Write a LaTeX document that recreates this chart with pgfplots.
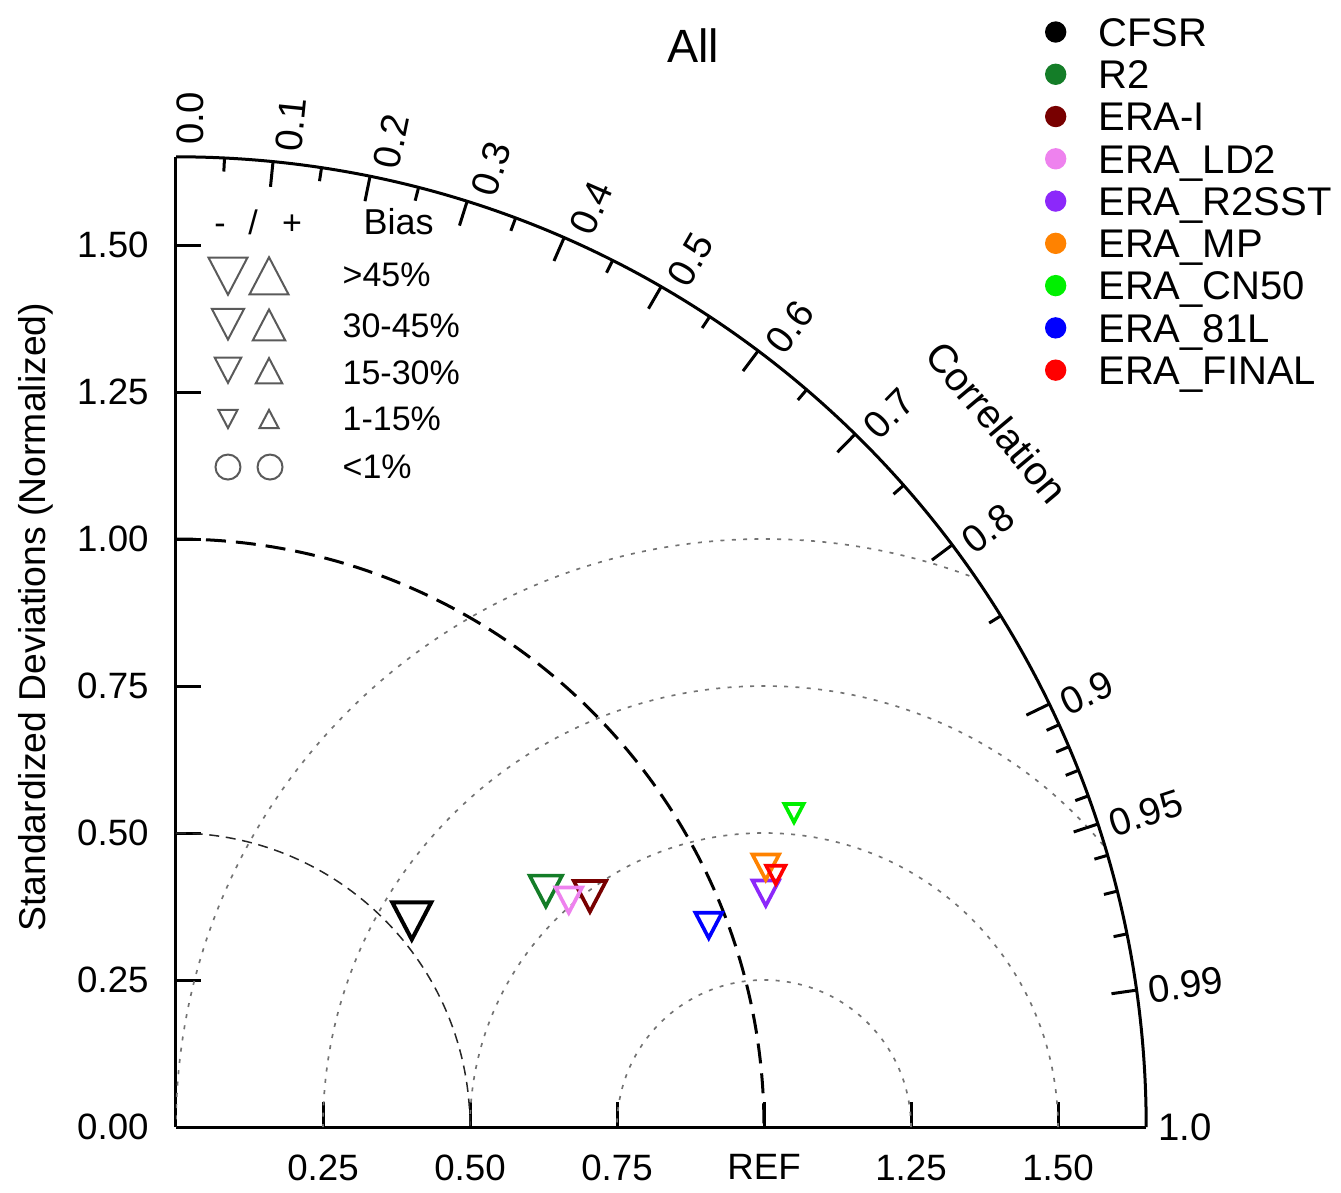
\documentclass[border=0pt]{standalone}
\usepackage{pgfplots}
\pgfplotsset{compat=1.18}
\usepackage{fontspec}
\setmainfont{Liberation Sans}

\definecolor{cR2}{RGB}{20,125,40}
\definecolor{cERAI}{RGB}{120,0,0}
\definecolor{cLD2}{RGB}{238,130,238}
\definecolor{cR2SST}{RGB}{140,40,250}
\definecolor{cMP}{RGB}{255,130,0}
\definecolor{cCN50}{RGB}{0,240,0}
\definecolor{c81L}{RGB}{0,0,255}
\definecolor{cFINAL}{RGB}{255,0,0}
\definecolor{keygray}{RGB}{90,90,90}

\tikzset{
  rmsgrid/.style={black!55, line width=0.5pt, dash pattern=on 1.2pt off 2.2pt},
  corrlab/.style={anchor=west, inner sep=0pt, font=\fontsize{11.5}{13}\selectfont},
  keytext/.style={anchor=base west, inner sep=0pt, font=\fontsize{10.2}{12}\selectfont},
}

\begin{document}
\begin{tikzpicture}
\begin{axis}[
  x=176.4pt, y=176.4pt,
  xmin=0, xmax=1.65, ymin=0, ymax=1.65,
  enlargelimits=false,
  axis lines*=left,
  axis line style={line width=0.9pt},
  clip=false,
  tick align=inside,
  major tick length=7.4pt,
  tick style={black, line width=0.9pt},
  xtick={0.25,0.5,0.75,1,1.25,1.5},
  xticklabels={0.25,0.50,0.75,REF,1.25,1.50},
  ytick={0,0.25,0.5,0.75,1,1.25,1.5},
  yticklabels={0.00,0.25,0.50,0.75,1.00,1.25,1.50},
  tick label style={font=\fontsize{11}{13}\selectfont},
  xticklabel style={yshift=-4.7pt},
  yticklabel style={xshift=-4.7pt},
  legend cell align=left,
  legend style={at={(0.8957,1.1434)}, anchor=north west, draw=none, fill=none,
    inner sep=0pt, outer sep=0pt, row sep=4.08pt, column sep=9.6pt,
    font=\fontsize{12}{14}\selectfont,
    nodes={inner sep=0pt, text height=8.6pt, text depth=0pt}},
  legend image code/.code={\fill[#1] (0pt,0pt) circle (3pt);},
]

% centred RMS-difference circles about the reference point
\begin{scope}
  \clip (axis cs:0,0) -- (axis cs:1.65,0) arc[start angle=0, end angle=90, radius=1.65] -- cycle;
  \draw[rmsgrid] (axis cs:1,0) circle[radius=0.25];
  \draw[rmsgrid] (axis cs:1,0) circle[radius=0.5];
  \draw[rmsgrid] (axis cs:1,0) circle[radius=0.75];
  \draw[rmsgrid] (axis cs:1,0) circle[radius=1];
\end{scope}

% standard-deviation arcs
\draw[black!85, line width=0.45pt, dash pattern=on 3pt off 2pt]
  (axis cs:0,0.5) arc[start angle=90, end angle=0, radius=0.5];
\draw[black, line width=0.9pt, dash pattern=on 6pt off 3pt]
  (axis cs:0,1) arc[start angle=90, end angle=0, radius=1];

% outer correlation arc with its ticks and labels
\draw[line width=0.9pt] (axis cs:1.65,0) arc[start angle=0, end angle=90, radius=1.65];
\pgfplotsinvokeforeach{0.1,0.2,0.3,0.4,0.5,0.6,0.7,0.8,0.9,0.95,0.99}{
  \draw[line width=0.9pt] (axis cs:{1.65*#1},{1.65*sqrt(1-#1*#1)}) -- (axis cs:{1.607*#1},{1.607*sqrt(1-#1*#1)});
}
\pgfplotsinvokeforeach{0.05,0.15,0.25,0.35,0.45,0.55,0.65,0.75,0.85,0.91,0.92,0.93,0.94,0.96,0.97,0.98}{
  \draw[line width=0.9pt] (axis cs:{1.65*#1},{1.65*sqrt(1-#1*#1)}) -- (axis cs:{1.627*#1},{1.627*sqrt(1-#1*#1)});
}
\pgfplotsinvokeforeach{0.0,0.1,0.2,0.3,0.4,0.5,0.6,0.7,0.8,0.9,0.95,0.99,1.0}{
  \node[corrlab, rotate={acos(#1)}] at (axis cs:{1.669*#1+0.0238*(1-#1*#1)},{1.669*sqrt(1-#1*#1)-0.0238*#1*sqrt(1-#1*#1)}) {#1};
}
\node[rotate=-50, font=\fontsize{12}{14}\selectfont] at (axis cs:1.396,1.199) {Correlation};

% titles
\node[font=\fontsize{14}{16}\selectfont] at (axis cs:0.8793,1.8384) {All};
\node[rotate=90, font=\fontsize{11.2}{13}\selectfont] at (axis cs:-0.238,0.867) {Standardized Deviations (Normalized)};

% bias key
\node[anchor=base, inner sep=0pt, font=\fontsize{10.2}{12}\selectfont] at (axis cs:0.0748,1.5187) {-};
\node[anchor=base, inner sep=0pt, font=\fontsize{10.2}{12}\selectfont] at (axis cs:0.1310,1.5187) {/};
\node[anchor=base, inner sep=0pt, font=\fontsize{10.2}{12}\selectfont] at (axis cs:0.1973,1.5187) {+};
\node[keytext, font=\fontsize{10.8}{12}\selectfont] at (axis cs:0.3180,1.5187) {Bias};
\node[keytext] at (axis cs:0.2823,1.4286) {>45\%};
\node[keytext] at (axis cs:0.2823,1.3435) {30-45\%};
\node[keytext] at (axis cs:0.2823,1.2636) {15-30\%};
\node[keytext] at (axis cs:0.2823,1.1837) {1-15\%};
\node[keytext] at (axis cs:0.2823,1.1037) {<1\%};

\addplot[forget plot, only marks, color=keygray, mark=triangle, mark size=6.75pt, mark options={rotate=180, yscale=1.1, line width=0.6pt}] coordinates {(0.0884,1.4575)};
\addplot[forget plot, only marks, color=keygray, mark=triangle, mark size=6.75pt, mark options={yscale=1.1, line width=0.6pt}] coordinates {(0.1582,1.4371)};
\addplot[forget plot, only marks, color=keygray, mark=triangle, mark size=5.6pt, mark options={rotate=180, yscale=1.1, line width=0.6pt}] coordinates {(0.0884,1.3741)};
\addplot[forget plot, only marks, color=keygray, mark=triangle, mark size=5.6pt, mark options={yscale=1.1, line width=0.6pt}] coordinates {(0.1582,1.3554)};
\addplot[forget plot, only marks, color=keygray, mark=triangle, mark size=4.6pt, mark options={rotate=180, yscale=1.1, line width=0.6pt}] coordinates {(0.0884,1.2942)};
\addplot[forget plot, only marks, color=keygray, mark=triangle, mark size=4.6pt, mark options={yscale=1.1, line width=0.6pt}] coordinates {(0.1582,1.2789)};
\addplot[forget plot, only marks, color=keygray, mark=triangle, mark size=3.3pt, mark options={rotate=180, yscale=1.1, line width=0.6pt}] coordinates {(0.0884,1.2092)};
\addplot[forget plot, only marks, color=keygray, mark=triangle, mark size=3.3pt, mark options={yscale=1.1, line width=0.6pt}] coordinates {(0.1582,1.1990)};
\addplot[forget plot, only marks, color=keygray, mark=o, mark size=3.75pt, mark options={line width=0.6pt}] coordinates {(0.0884,1.1224) (0.1599,1.1224)};

% normalised standard deviation / correlation points (all with negative bias)
\addplot[only marks, color=black, mark=triangle, mark size=6.75pt, mark options={rotate=180, yscale=1.1, line width=1.2pt}] coordinates {(0.401,0.361)};
\addlegendentry{CFSR}
\addplot[only marks, color=cR2, mark=triangle, mark size=5.6pt, mark options={rotate=180, yscale=1.1, line width=1.1pt}] coordinates {(0.629,0.410)};
\addlegendentry{R2}
\addplot[only marks, color=cERAI, mark=triangle, mark size=5.6pt, mark options={rotate=180, yscale=1.1, line width=1.1pt}] coordinates {(0.704,0.401)};
\addlegendentry{ERA-I}
\addplot[only marks, color=cLD2, mark=triangle, mark size=4.6pt, mark options={rotate=180, yscale=1.1, line width=1.1pt}] coordinates {(0.668,0.393)};
\addlegendentry{ERA\_LD2}
\addplot[only marks, color=cR2SST, mark=triangle, mark size=4.6pt, mark options={rotate=180, yscale=1.1, line width=1.1pt}] coordinates {(1.003,0.405)};
\addlegendentry{ERA\_R2SST}
\addplot[only marks, color=cMP, mark=triangle, mark size=4.6pt, mark options={rotate=180, yscale=1.1, line width=1.1pt}] coordinates {(1.003,0.449)};
\addlegendentry{ERA\_MP}
\addplot[only marks, color=cCN50, mark=triangle, mark size=3.3pt, mark options={rotate=180, yscale=1.1, line width=1.1pt}] coordinates {(1.051,0.539)};
\addlegendentry{ERA\_CN50}
\addplot[only marks, color=c81L, mark=triangle, mark size=4.6pt, mark options={rotate=180, yscale=1.1, line width=1.1pt}] coordinates {(0.906,0.350)};
\addlegendentry{ERA\_81L}
\addplot[only marks, color=cFINAL, mark=triangle, mark size=3.3pt, mark options={rotate=180, yscale=1.1, line width=1.1pt}] coordinates {(1.020,0.434)};
\addlegendentry{ERA\_FINAL}

\coordinate (bbsw) at (axis cs:-0.29932,-0.11054);
\coordinate (bbne) at (axis cs:1.98129,1.91667);
\end{axis}
\pgfresetboundingbox
\path[use as bounding box] (bbsw) rectangle (bbne);
\end{tikzpicture}
\end{document}
